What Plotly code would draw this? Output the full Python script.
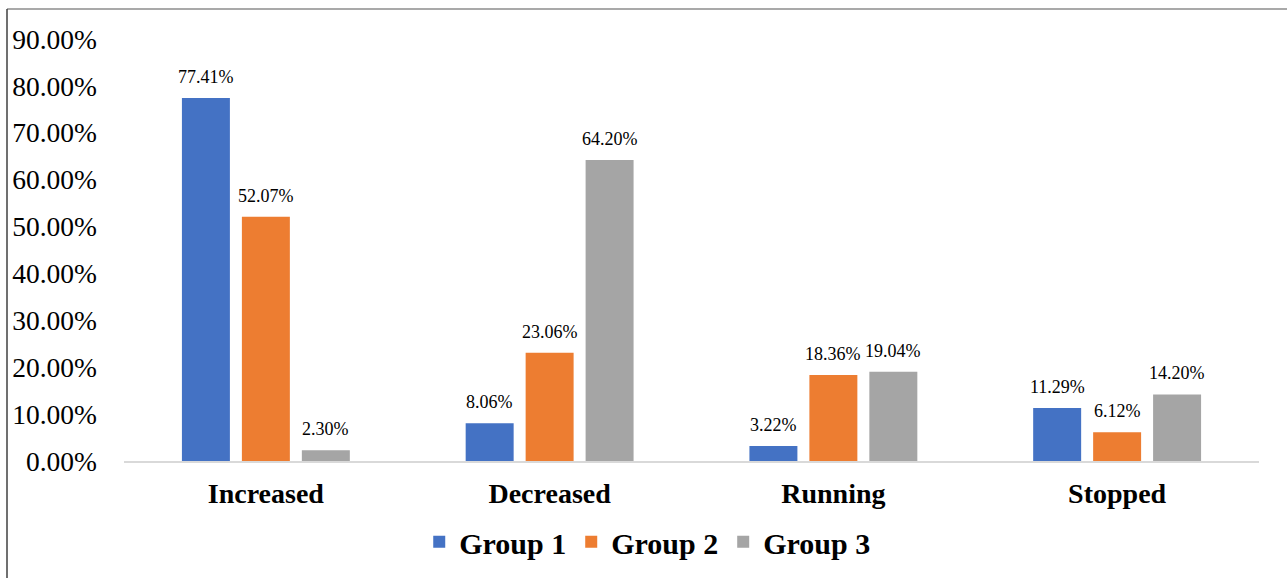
import plotly.graph_objects as go

categories = ["Increased", "Decreased", "Running", "Stopped"]
group1 = [77.41, 8.06, 3.22, 11.29]
group2 = [52.07, 23.06, 18.36, 6.12]
group3 = [2.30, 64.20, 19.04, 14.20]
series_names = ["Group 1", "Group 2", "Group 3"]
colors = ["#4472C4", "#ED7D31", "#A5A5A5"]
y_ticks = [0, 10, 20, 30, 40, 50, 60, 70, 80, 90]

FONT = "Liberation Serif, Times New Roman, serif"

fig = go.Figure()
all_series = [group1, group2, group3]
for name, vals, col in zip(series_names, all_series, colors):
    fig.add_trace(go.Bar(
        x=categories, y=vals, name=name,
        marker=dict(color=col, line=dict(width=0)),
    ))

# data labels above bars
offsets = [-60, 0, 60]
for vals, off in zip(all_series, offsets):
    for cat, v in zip(categories, vals):
        fig.add_annotation(
            x=cat, y=v, xref="x", yref="y",
            text=f"{v:.2f}%", showarrow=False,
            xshift=off, yshift=9, yanchor="bottom",
            font=dict(family=FONT, size=18, color="#000000"),
        )

# border lines (top gray, left dark)
L, R, T, B = 124, 28, 39, 117
W, H = 1287, 578
pw, ph = W - L - R, H - T - B
x_left = (7 - L) / pw
y_top = (H - B - 9) / ph
fig.add_shape(type="line", xref="paper", yref="paper",
              x0=x_left, x1=(W + 20 - L) / pw, y0=y_top, y1=y_top,
              line=dict(color="#8C8C8C", width=1.5))
fig.add_shape(type="line", xref="paper", yref="paper",
              x0=x_left, x1=x_left, y0=y_top, y1=(-B - 20) / ph,
              line=dict(color="#404040", width=1.5))

fig.update_layout(
    width=W, height=H,
    margin=dict(l=L, r=R, t=T, b=B, pad=0, autoexpand=False),
    paper_bgcolor="white", plot_bgcolor="white",
    barmode="group", bargap=0.366, bargroupgap=0.2,
    font=dict(family=FONT, color="#000000"),
    showlegend=True,
    legend=dict(
        orientation="h", x=0.461, xanchor="center", y=-0.13, yanchor="top",
        font=dict(family=FONT, size=30, color="#000000", weight="bold"),
        itemwidth=30, traceorder="normal",
    ),
    xaxis=dict(
        showgrid=False, showline=True, linecolor="#D9D9D9", linewidth=2,
        ticks="", tickfont=dict(family=FONT, size=28, color="#000000", weight="bold"),
        ticklabelstandoff=6, automargin=False,
    ),
    yaxis=dict(
        range=[0, 90], tickvals=y_ticks,
        ticktext=[f"{t:.2f}%" for t in y_ticks],
        showgrid=False, zeroline=False, showline=False, ticks="",
        tickfont=dict(family=FONT, size=27.5, color="#000000"),
        ticklabelstandoff=26, automargin=False,
    ),
)

fig.write_html("out.html", config={"displayModeBar": False},
               post_script="document.body.style.margin='0';document.body.style.overflow='hidden';")
